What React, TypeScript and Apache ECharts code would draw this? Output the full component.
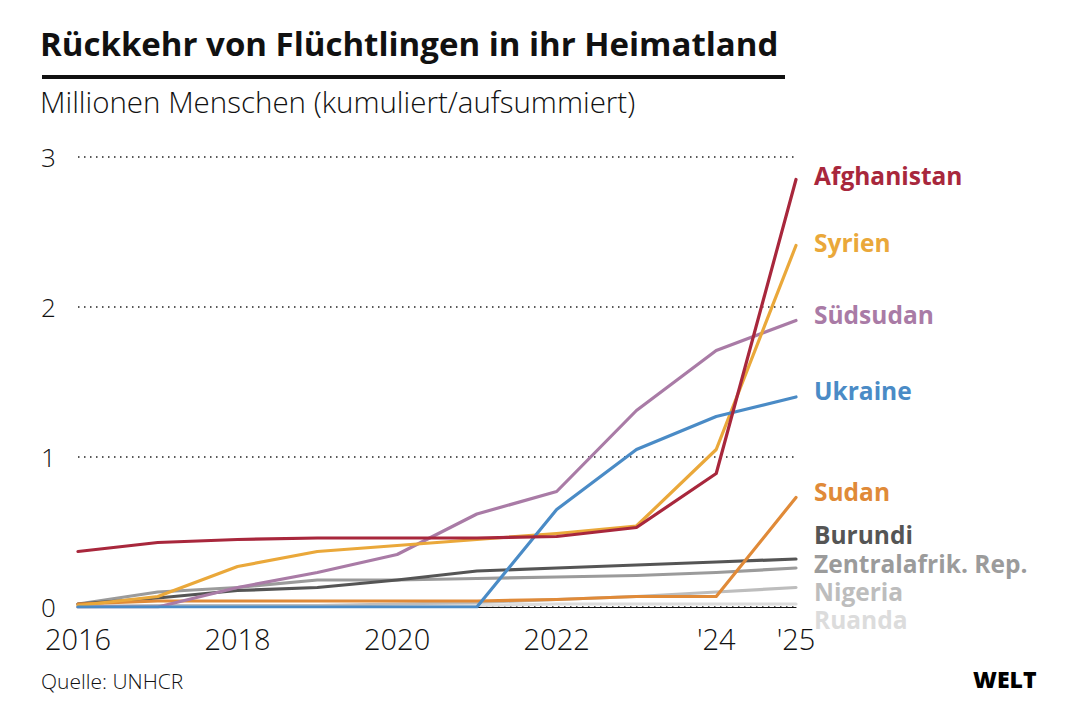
import React, { useEffect, useRef } from "react";
import * as echarts from "echarts";

const years = ["2016", "2017", "2018", "2019", "2020", "2021", "2022", "2023", "2024", "2025"];
const tickLabels: Record<string, string> = { "2016": "2016", "2018": "2018", "2020": "2020", "2022": "2022", "2024": "'24", "2025": "'25" };
const yTicks = [0, 1, 2, 3];

const afghanistan = [0.37, 0.43, 0.45, 0.46, 0.46, 0.46, 0.47, 0.53, 0.89, 2.85];
const syrien = [0.01, 0.07, 0.27, 0.37, 0.41, 0.45, 0.49, 0.54, 1.05, 2.41];
const suedsudan = [0, 0, 0.13, 0.23, 0.35, 0.62, 0.77, 1.31, 1.71, 1.91];
const ukraine = [0, 0, 0, 0, 0, 0, 0.65, 1.05, 1.27, 1.4];
const sudan = [0.02, 0.04, 0.04, 0.04, 0.04, 0.04, 0.05, 0.07, 0.07, 0.73];
const burundi = [0.02, 0.06, 0.11, 0.13, 0.18, 0.24, 0.26, 0.28, 0.3, 0.32];
const zar = [0.02, 0.1, 0.13, 0.18, 0.18, 0.19, 0.2, 0.21, 0.23, 0.26];
const nigeria = [0.0, 0.01, 0.01, 0.01, 0.02, 0.03, 0.05, 0.07, 0.1, 0.13];
const ruanda = [0.01, 0.01, 0.01, 0.01, 0.01, 0.01, 0.02, 0.02, 0.02, 0.02];

const seriesDefs = [
  { name: "Ruanda", data: ruanda, color: "#dcdcdc", labelY: 619 },
  { name: "Nigeria", data: nigeria, color: "#bdbdbd", labelY: 591 },
  { name: "Zentralafrik. Rep.", data: zar, color: "#9b9b9b", labelY: 563 },
  { name: "Burundi", data: burundi, color: "#555555", labelY: 534 },
  { name: "Sudan", data: sudan, color: "#e08a38", labelY: 491 },
  { name: "Südsudan", data: suedsudan, color: "#a97ba6", labelY: 314 },
  { name: "Syrien", data: syrien, color: "#eaa83a", labelY: 242 },
  { name: "Ukraine", data: ukraine, color: "#4a8bc6", labelY: 390 },
  { name: "Afghanistan", data: afghanistan, color: "#a8273c", labelY: 175 },
];

const FONT = "'Open Sans', Lato, sans-serif";

export default function App() {
  const ref = useRef<HTMLDivElement>(null);
  useEffect(() => {
    document.body.style.margin = "0";
    const chart = echarts.init(ref.current!, null, { renderer: "svg" });
    chart.setOption({
      animation: false,
      backgroundColor: "#ffffff",
      textStyle: { fontFamily: FONT },
      grid: { left: 78, right: 282, top: 157, bottom: 107, containLabel: false },
      xAxis: {
        type: "category",
        data: years,
        boundaryGap: false,
        axisLine: { show: true, lineStyle: { color: "#111", width: 1.2 } },
        axisTick: { show: false },
        axisLabel: {
          interval: 0,
          margin: 16,
          fontSize: 29,
          lineHeight: 30,
          fontFamily: FONT,
          fontWeight: 300,
          color: "#111",
          formatter: (v: string) => tickLabels[v] ?? "",
        },
        splitLine: { show: false },
      },
      yAxis: {
        type: "value",
        min: yTicks[0],
        max: yTicks[yTicks.length - 1],
        interval: 1,
        axisLine: { show: false },
        axisTick: { show: false },
        axisLabel: {
          align: "left",
          margin: 37,
          fontSize: 26,
          lineHeight: 20,
          fontFamily: FONT,
          fontWeight: 300,
          color: "#111",
          verticalAlign: "middle",
          padding: [0, 0, 6, 0],
        },
        splitLine: { show: true, lineStyle: { color: "#222", width: 1.5, type: [1.5, 4.5] } },
      },
      series: seriesDefs.map((s) => ({
        type: "line",
        name: s.name,
        data: s.data,
        symbol: "none",
        lineStyle: { color: s.color, width: 3.2, cap: "round", join: "round" },
        itemStyle: { color: s.color },
        silent: true,
      })),
      graphic: [
        {
          type: "text",
          left: 40,
          top: 27,
          style: { text: "Rückkehr von Flüchtlingen in ihr Heimatland", font: `bold 33px ${FONT}`, fill: "#111" },
        },
        { type: "rect", shape: { x: 42, y: 75, width: 743, height: 4 }, style: { fill: "#111" } },
        {
          type: "text",
          left: 40,
          top: 86,
          style: { text: "Millionen Menschen (kumuliert/aufsummiert)", font: `300 29.5px ${FONT}`, fill: "#111" },
        },
        {
          type: "text",
          left: 41,
          top: 670,
          style: { text: "Quelle: UNHCR", font: `300 21px ${FONT}`, fill: "#111" },
        },
        {
          type: "text",
          left: 973,
          top: 667,
          style: { text: "WELT", font: `800 23px ${FONT}`, fill: "#000" },
        },
        ...seriesDefs.map((s) => ({
          type: "text",
          x: 814,
          y: s.labelY,
          style: {
            text: s.name,
            font: `bold 24.5px ${FONT}`,
            lineHeight: 24,
            fill: s.color,
            verticalAlign: "middle",
            align: "left",
          },
        })),
      ],
    });
    return () => chart.dispose();
  }, []);
  return <div ref={ref} style={{ width: 1078, height: 714 }} />;
}
